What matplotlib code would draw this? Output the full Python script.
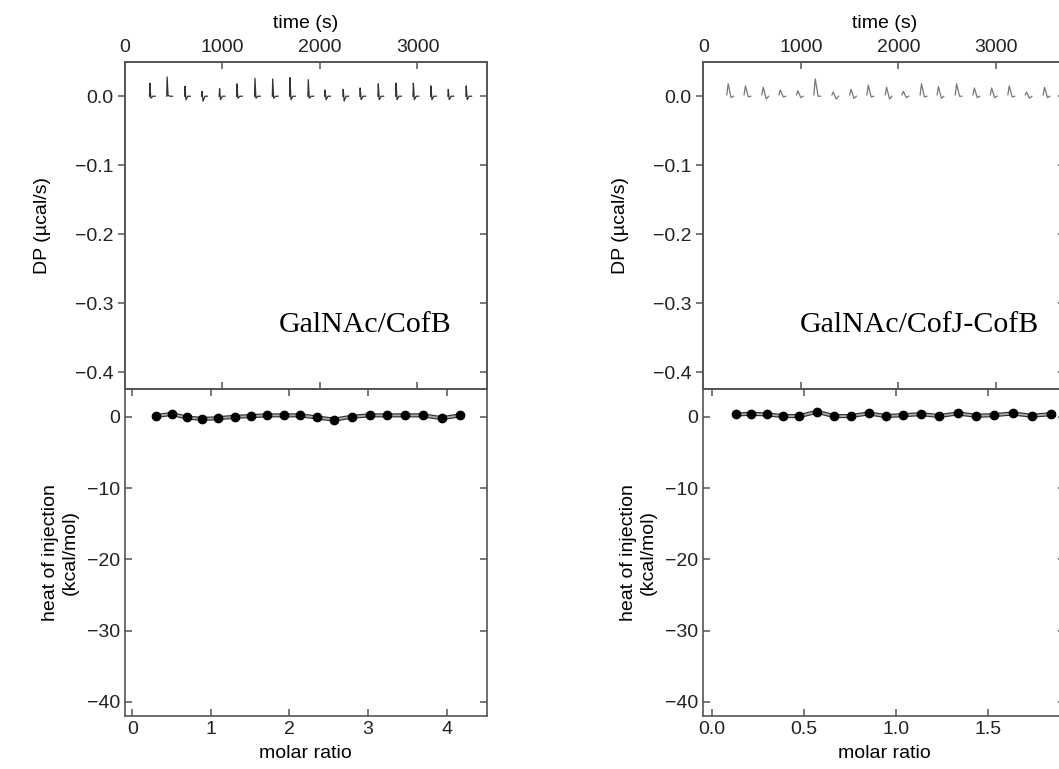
import numpy as np
import matplotlib.pyplot as plt

plt.rcParams['font.family'] = ['Liberation Sans', 'DejaVu Sans']
plt.rcParams['axes.unicode_minus'] = True

# injection times (s), same schedule for both runs
inj_time = [255, 432, 615, 790, 970, 1148, 1333, 1515, 1692, 1880,
            2052, 2238, 2412, 2598, 2780, 2958, 3138, 3316, 3500]

# DP spikes (ucal/s): peak and dip of each injection
left_peak = [0.019, 0.028, 0.0145, 0.007, 0.011, 0.018, 0.026, 0.025, 0.027, 0.024,
             0.009, 0.010, 0.012, 0.018, 0.019, 0.019, 0.015, 0.010, 0.015]
left_dip = [-0.003, 0.001, -0.005, -0.007, -0.005, -0.003, -0.003, -0.003, -0.005, -0.003,
            -0.005, -0.007, -0.005, -0.005, -0.005, -0.005, -0.005, -0.005, -0.005]
right_peak = [0.018, 0.015, 0.013, 0.009, 0.008, 0.025, 0.006, 0.010, 0.016, 0.013,
              0.007, 0.018, 0.014, 0.018, 0.012, 0.012, 0.015, 0.006, 0.013]
right_dip = [-0.002, -0.001, -0.004, -0.001, -0.002, 0.0, -0.004, -0.003, -0.001, -0.004,
             -0.002, -0.001, -0.003, 0.0, -0.002, -0.002, -0.001, -0.003, -0.002]

# integrated heats
left_ratio = [0.30, 0.50, 0.69, 0.89, 1.09, 1.31, 1.51, 1.72, 1.93, 2.14,
              2.35, 2.57, 2.79, 3.02, 3.24, 3.47, 3.70, 3.94, 4.17]
left_heat = [0.1, 0.4, -0.1, -0.3, -0.2, 0.0, 0.1, 0.2, 0.2, 0.2,
             -0.1, -0.4, 0.0, 0.2, 0.2, 0.2, 0.2, -0.2, 0.2]
right_ratio = [0.133, 0.215, 0.298, 0.389, 0.476, 0.571, 0.663, 0.754, 0.851, 0.946,
               1.040, 1.137, 1.234, 1.334, 1.434, 1.532, 1.634, 1.737, 1.842]
right_heat = [0.33, 0.42, 0.33, 0.1, 0.1, 0.7, 0.1, 0.1, 0.47, 0.1,
              0.23, 0.37, 0.1, 0.47, 0.14, 0.23, 0.47, 0.14, 0.37]

spine_col = '#555555'
fs = 14


def style(ax):
    for s in ax.spines.values():
        s.set_color(spine_col)
        s.set_linewidth(1.2)
    ax.tick_params(colors=spine_col, labelcolor='#222222', labelsize=fs, length=5, width=1.1)


def panel(x0, peak, dip, kind, ratio, heat, xlim_ratio, xticks, title):
    W = 361.7 / 1059
    ax_top = fig.add_axes([x0, 1 - 389 / 769, W, 327.3 / 769])
    ax_bot = fig.add_axes([x0, 1 - 716 / 769, W, 327 / 769])

    # thermogram
    for t, p, d in zip(inj_time, peak, dip):
        if kind == 'hook':
            tt = [t - 4, t, t + 10, t + 30, t + 55]
            yy = [0.0, p, d, 0.0, 0.0]
            col = '#333333'
        else:
            tt = [t - 14, t, t + 30, t + 55]
            yy = [0.002, p, d, 0.0]
            col = '#777777'
        ax_top.plot(tt, yy, color=col, lw=0.9)
    ax_top.set_xlim(0, 3710)
    ax_top.set_ylim(-0.424, 0.05)
    ax_top.set_yticks([0.0, -0.1, -0.2, -0.3, -0.4])
    ax_top.set_xticks([0, 1000, 2000, 3000])
    ax_top.xaxis.set_label_position('top')
    ax_top.set_xlabel('time (s)', fontsize=fs, labelpad=8)
    ax_top.set_ylabel('DP (µcal/s)', fontsize=fs, labelpad=17)
    style(ax_top)
    ax_top.tick_params(axis='x', direction='in', top=True, bottom=True,
                       labeltop=True, labelbottom=False, pad=4)
    ax_top.tick_params(axis='y', direction='out', right=False)
    ax_r = ax_top.twinx()
    ax_r.set_ylim(ax_top.get_ylim())
    ax_r.set_yticks([0.0, -0.1, -0.2, -0.3, -0.4])
    style(ax_r)
    ax_r.tick_params(axis='y', direction='in', labelright=False)
    ax_top.text(title[1], -0.3416, title[0], family=['Liberation Serif', 'DejaVu Serif'],
                fontsize=21.5, ha='right', va='baseline')

    # binding isotherm
    ax_bot.plot(ratio, heat, color='#333333', lw=3.0, zorder=2)
    ax_bot.plot(ratio, heat, color='#aaaaaa', lw=1.3, zorder=3)
    ax_bot.plot(ratio, heat, 'o', color='black', ms=6, zorder=4)
    ax_bot.set_xlim(xlim_ratio)
    ax_bot.set_ylim(-42, 3.9)
    ax_bot.set_xticks(xticks)
    ax_bot.set_yticks([0, -10, -20, -30, -40])
    ax_bot.set_xlabel('molar ratio', fontsize=fs, labelpad=5)
    ax_bot.set_ylabel('heat of injection\n(kcal/mol)', fontsize=fs, labelpad=6)
    style(ax_bot)
    ax_bot.tick_params(direction='in', top=True, right=True)
    return ax_top, ax_bot


fig = plt.figure(figsize=(10.59, 7.69), dpi=100)
panel(125 / 1059, left_peak, left_dip, 'hook', left_ratio, left_heat,
      (-0.093, 4.51), [0, 1, 2, 3, 4], ('GalNAc/CofB', 3354))
a1, a2 = panel(703.3 / 1059, right_peak, right_dip, 'peak', right_ratio, right_heat,
               (-0.046, 1.917), [0.0, 0.5, 1.0, 1.5], ('GalNAc/CofJ-CofB', 3443))
a2.xaxis.set_major_formatter(plt.FormatStrFormatter('%.1f'))

fig.savefig('out.png', dpi=100)
